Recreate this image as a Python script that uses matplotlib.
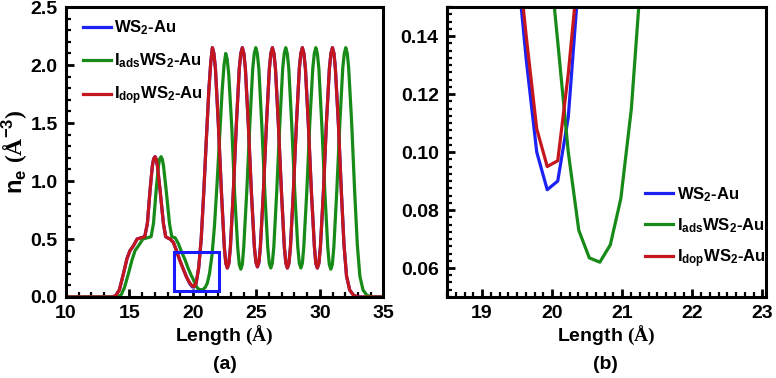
import numpy as np
import matplotlib
matplotlib.use("Agg")
import matplotlib.pyplot as plt
from matplotlib.patches import Rectangle
from matplotlib.ticker import MultipleLocator

# planar averaged electron density n_e along z (Angstrom)
dop_len = [10.0, 13.6, 13.9, 14.2, 14.52, 14.8, 15.04, 15.3, 15.6, 15.9, 16.2, 16.41, 16.62, 16.8,
           16.9, 17.01, 17.1, 17.2, 17.41, 17.67, 17.85, 18.0, 18.2, 18.46, 18.7, 18.95, 19.24,
           19.5, 19.75, 19.95, 20.1, 20.25, 20.45, 20.65, 20.85, 21.05, 21.25, 21.4,
           21.53, 21.65, 21.77, 22.0, 22.24, 22.47, 22.59, 22.71, 22.83, 22.95, 23.18, 23.42, 23.65, 23.77,
           23.89, 24.01, 24.13, 24.36, 24.6, 24.84, 24.96, 25.08, 25.2, 25.31, 25.55, 25.79, 26.02, 26.14,
           26.26, 26.38, 26.5, 26.73, 26.97, 27.2, 27.32, 27.44, 27.56, 27.68, 27.91, 28.15, 28.38, 28.5,
           28.62, 28.74, 28.86, 29.09, 29.33, 29.57, 29.68, 29.8, 29.92, 30.04, 30.28, 30.51, 30.75, 30.87,
           30.99, 31.11, 31.22, 31.46, 31.69, 31.9, 32.1, 32.35, 32.65, 33.0, 35.0]
dop_ne = [0.0, 0.0, 0.01, 0.06, 0.2, 0.33, 0.4, 0.44, 0.5, 0.51, 0.52, 0.635, 0.92, 1.13,
          1.19, 1.21, 1.19, 1.13, 0.92, 0.635, 0.52, 0.51, 0.5, 0.47, 0.4, 0.32, 0.24,
          0.17, 0.12, 0.095, 0.09, 0.12, 0.25, 0.5, 0.9, 1.35, 1.78, 2.02,
          2.15, 2.10, 1.97, 1.49, 0.91, 0.43, 0.29, 0.25, 0.29, 0.43, 0.91, 1.49, 1.97, 2.10,
          2.15, 2.10, 1.97, 1.49, 0.91, 0.43, 0.30, 0.26, 0.30, 0.43, 0.91, 1.49, 1.97, 2.10,
          2.15, 2.10, 1.97, 1.49, 0.91, 0.43, 0.29, 0.25, 0.29, 0.43, 0.91, 1.49, 1.97, 2.10,
          2.15, 2.10, 1.97, 1.49, 0.91, 0.43, 0.29, 0.25, 0.29, 0.43, 0.91, 1.49, 1.97, 2.10,
          2.15, 2.10, 1.97, 1.49, 0.91, 0.45, 0.18, 0.06, 0.015, 0.0, 0.0]
# WS2-Au sits under Idop almost everywhere
ws2_len = dop_len
ws2_ne = [0.0, 0.0, 0.01, 0.06, 0.2, 0.33, 0.4, 0.44, 0.5, 0.51, 0.52, 0.635, 0.92, 1.13,
          1.19, 1.21, 1.19, 1.13, 0.92, 0.635, 0.52, 0.51, 0.5, 0.47, 0.4, 0.32, 0.24,
          0.17, 0.115, 0.087, 0.086, 0.12, 0.25, 0.5, 0.9, 1.35, 1.78, 2.02,
          2.15, 2.10, 1.97, 1.49, 0.91, 0.43, 0.29, 0.25, 0.29, 0.43, 0.91, 1.49, 1.97, 2.10,
          2.15, 2.10, 1.97, 1.49, 0.91, 0.43, 0.30, 0.26, 0.30, 0.43, 0.91, 1.49, 1.97, 2.10,
          2.15, 2.10, 1.97, 1.49, 0.91, 0.43, 0.29, 0.25, 0.29, 0.43, 0.91, 1.49, 1.97, 2.10,
          2.15, 2.10, 1.97, 1.49, 0.91, 0.43, 0.29, 0.25, 0.29, 0.43, 0.91, 1.49, 1.97, 2.10,
          2.15, 2.10, 1.97, 1.49, 0.91, 0.45, 0.18, 0.06, 0.015, 0.0, 0.0]
ads_len = [10.0, 14.1, 14.35, 14.6, 14.91, 15.2, 15.44, 15.7, 16.05, 16.4, 16.7, 16.89, 17.1,
           17.28, 17.38, 17.49, 17.58, 17.68, 17.89, 18.15, 18.33, 18.6, 18.85, 19.1, 19.38,
           19.65, 19.85, 20.03, 20.23, 20.38, 20.53, 20.68, 20.83, 20.98, 21.13, 21.3, 21.5,
           21.7, 21.9, 22.1, 22.3, 22.45,
           22.58, 22.7, 22.82, 23.06, 23.29, 23.53, 23.65, 23.77, 23.89, 24.0, 24.24, 24.48, 24.71, 24.83,
           24.95, 25.07, 25.19, 25.42, 25.66, 25.89, 26.01, 26.13, 26.25, 26.37, 26.6, 26.84, 27.07, 27.19,
           27.31, 27.43, 27.55, 27.78, 28.02, 28.26, 28.38, 28.5, 28.62, 28.73, 28.97, 29.2, 29.44, 29.56,
           29.68, 29.8, 29.92, 30.15, 30.39, 30.62, 30.74, 30.86, 30.98, 31.1, 31.33, 31.57, 31.8, 31.92,
           32.04, 32.16, 32.27, 32.51, 32.74, 32.95, 33.15, 33.4, 33.7, 34.1, 35.0]
ads_ne = [0.0, 0.0, 0.02, 0.08, 0.2, 0.32, 0.4, 0.44, 0.5, 0.51, 0.52, 0.635, 0.92,
          1.13, 1.19, 1.21, 1.19, 1.13, 0.92, 0.635, 0.52, 0.51, 0.46, 0.39, 0.32,
          0.24, 0.19, 0.15, 0.1, 0.073, 0.064, 0.062, 0.068, 0.085, 0.12, 0.2, 0.36,
          0.62, 0.98, 1.38, 1.78, 2.0,
          2.10, 2.05, 1.92, 1.46, 0.88, 0.42, 0.28, 0.24, 0.28, 0.43, 0.91, 1.49, 1.97, 2.10,
          2.15, 2.10, 1.97, 1.49, 0.91, 0.43, 0.29, 0.25, 0.29, 0.43, 0.91, 1.49, 1.97, 2.10,
          2.15, 2.10, 1.97, 1.49, 0.91, 0.43, 0.29, 0.25, 0.29, 0.43, 0.91, 1.49, 1.97, 2.10,
          2.15, 2.10, 1.97, 1.49, 0.91, 0.43, 0.28, 0.24, 0.28, 0.43, 0.91, 1.49, 1.97, 2.10,
          2.15, 2.10, 1.97, 1.49, 0.91, 0.45, 0.18, 0.06, 0.015, 0.0, 0.0]

# zoom on the interface minimum, panel (b)
zoom_len = [19.33, 19.48, 19.63, 19.78, 19.93, 20.08, 20.23, 20.38, 20.53, 20.68, 20.83, 20.98,
            21.13, 21.28, 21.43]
zoom_ws2 = [0.22, 0.17, 0.132, 0.100, 0.087, 0.090, 0.112, 0.160, 0.25, 0.40, 0.60, 0.85,
            1.15, 1.45, 1.75]
zoom_ads = [0.33, 0.29, 0.25, 0.21, 0.175, 0.138, 0.100, 0.073, 0.0635, 0.062, 0.068, 0.084,
            0.115, 0.165, 0.25]
zoom_dop = [0.22, 0.175, 0.140, 0.108, 0.095, 0.097, 0.127, 0.165, 0.25, 0.40, 0.60, 0.85,
            1.15, 1.45, 1.75]

labels = ['WS$_2$-Au', 'I$_{ads}$WS$_2$-Au', 'I$_{dop}$WS$_2$-Au']
colors = ['#1c22f2', '#178a17', '#c4161c']

plt.rcParams['font.family'] = 'Liberation Sans'
plt.rcParams['font.weight'] = 'bold'
plt.rcParams['mathtext.fontset'] = 'custom'
plt.rcParams['mathtext.rm'] = 'Liberation Serif'
plt.rcParams['mathtext.default'] = 'regular'

fig = plt.figure(figsize=(7.76, 3.78), dpi=100)
ax1 = fig.add_axes([0.0851, 0.2143, 0.4089, 0.767])
ax2 = fig.add_axes([0.576, 0.2143, 0.4111, 0.767])

lw = 2.3
ax1.plot(ws2_len, ws2_ne, color=colors[0], lw=lw, label=labels[0])
ax1.plot(ads_len, ads_ne, color=colors[1], lw=lw, label=labels[1])
ax1.plot(dop_len, dop_ne, color=colors[2], lw=lw, label=labels[2])
ax1.add_patch(Rectangle((18.5, 0.05), 3.58, 0.34, fill=False, edgecolor='#1a1aff', lw=2.2, zorder=5))
ax1.set_xlim(10, 35)
ax1.set_ylim(0, 2.5)
ax1.xaxis.set_major_locator(MultipleLocator(5))
ax1.xaxis.set_minor_locator(MultipleLocator(1))
ax1.yaxis.set_major_locator(MultipleLocator(0.5))
ax1.yaxis.set_minor_locator(MultipleLocator(0.1))
ax1.set_xlabel('Length $\\mathrm{(Å)}$', fontsize=14, fontweight='bold', labelpad=1)
ax1.set_ylabel('n$_e$ $\\mathrm{(Å}^{-3}\\mathrm{)}$', fontsize=17, fontweight='bold', labelpad=0)
ax1.legend(loc='upper left', bbox_to_anchor=(0.016, 1.0), frameon=False, fontsize=12,
           handlelength=1.7, handletextpad=0.2, labelspacing=0.85, borderaxespad=0.3)

ax2.plot(zoom_len, zoom_ws2, color=colors[0], lw=lw, label=labels[0])
ax2.plot(zoom_len, zoom_ads, color=colors[1], lw=lw, label=labels[1])
ax2.plot(zoom_len, zoom_dop, color=colors[2], lw=lw, label=labels[2])
ax2.set_xlim(18.5, 23.05)
ax2.set_ylim(0.05, 0.15)
ax2.xaxis.set_major_locator(MultipleLocator(1))
ax2.xaxis.set_minor_locator(MultipleLocator(0.125))
ax2.yaxis.set_major_locator(MultipleLocator(0.02))
ax2.yaxis.set_minor_locator(MultipleLocator(0.0025))
ax2.set_yticks([0.06, 0.08, 0.10, 0.12, 0.14])
ax2.set_xlabel('Length $\\mathrm{(Å)}$', fontsize=14, fontweight='bold', labelpad=1)
ax2.legend(loc='lower right', bbox_to_anchor=(1.02, 0.07), frameon=False, fontsize=12,
           handlelength=1.7, handletextpad=0.2, labelspacing=0.75, borderaxespad=0)

for ax in (ax1, ax2):
    for s in ax.spines.values():
        s.set_linewidth(2.2)
    ax.tick_params(which='major', direction='in', length=6, width=2, labelsize=14, pad=6)
    ax.tick_params(which='minor', direction='in', length=3.5, width=1.6)
    for t in ax.get_xticklabels() + ax.get_yticklabels():
        t.set_fontweight('bold')

fig.text(0.29, 0.035, '(a)', ha='center', va='center', fontsize=14, fontweight='bold')
fig.text(0.78, 0.035, '(b)', ha='center', va='center', fontsize=14, fontweight='bold')

fig.savefig('out.png', dpi=100)
